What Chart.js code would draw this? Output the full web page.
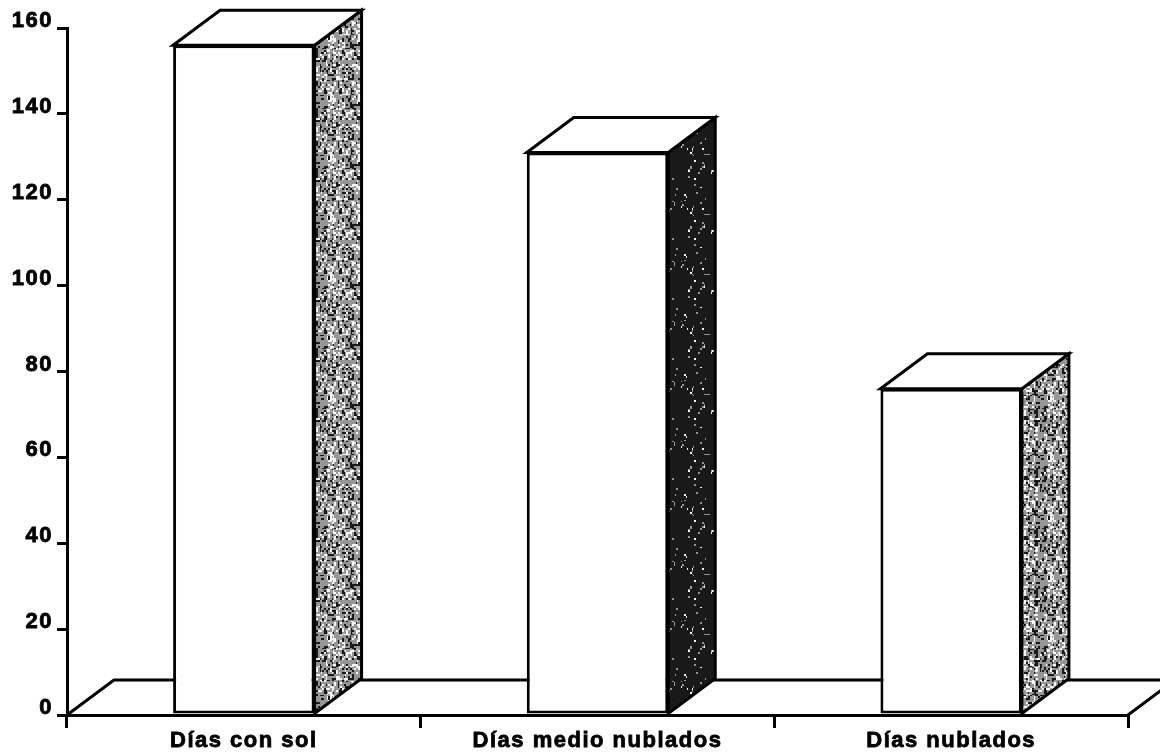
<!DOCTYPE html>
<html>
<head>
<meta charset="utf-8">
<script src="https://cdn.jsdelivr.net/npm/chart.js@4/dist/chart.umd.min.js"></script>
<style>
  html, body { margin: 0; padding: 0; background: #fff; }
  #wrap { width: 1160px; height: 756px; }
</style>
</head>
<body>
<div id="wrap"><canvas id="c" width="1160" height="756"></canvas></div>
<script>
// Días al año según el estado del cielo
const categories = ['Días con sol', 'Días medio nublados', 'Días nublados'];
const days = [156, 131, 76];
const yTickValues = [0, 20, 40, 60, 80, 100, 120, 140, 160];

// Styling of the pseudo-3D look
const DEPTH = { dx: 47, dy: 35 };
const SIDE_TONES = [
  { white: 0.36, grey: 0.36 },
  { white: 0.08, grey: 0.10 },
  { white: 0.34, grey: 0.36 }
];
const LINE = 3;
const FONT = { family: '"Liberation Sans", Arial, Helvetica, sans-serif', size: 22, weight: 'bold' };

// Deterministic speckle texture for the shaded side faces
function speckle(x, y) {
  let n = Math.imul(x, 374761393) + Math.imul(y, 668265263);
  n = Math.imul(n ^ (n >>> 13), 1274126177);
  n = n ^ (n >>> 16);
  return ((n >>> 0) % 1000) / 1000;
}
function makeTexture(ctx, tone) {
  const size = 60;
  const t = document.createElement('canvas');
  t.width = t.height = size;
  const g = t.getContext('2d');
  const img = g.createImageData(size, size);
  for (let y = 0; y < size; y++) {
    for (let x = 0; x < size; x++) {
      const h = 0.6 * speckle(Math.floor(x / 2), Math.floor(y / 2)) +
                0.4 * speckle(Math.floor(x / 3) + 101, Math.floor(y / 7) + 57);
      let v;
      if (h < tone.white) v = 245;
      else if (h < tone.white + tone.grey) v = 150;
      else v = 25;
      const i = (y * size + x) * 4;
      img.data[i] = img.data[i + 1] = img.data[i + 2] = v;
      img.data[i + 3] = 255;
    }
  }
  g.putImageData(img, 0, 0);
  return ctx.createPattern(t, 'repeat');
}

const box3d = {
  id: 'box3d',
  beforeDraw(chart) {
    chart.ctx.letterSpacing = '1.5px';
  },
  beforeDatasetsDraw(chart) {
    // floor plane behind the bars
    const { ctx, chartArea } = chart;
    const yb = chart.scales.y.getPixelForValue(0);
    const x0 = chartArea.left, x1 = chartArea.right;
    ctx.save();
    ctx.strokeStyle = '#000';
    ctx.lineWidth = LINE;
    ctx.lineJoin = 'miter';
    ctx.beginPath();
    ctx.moveTo(x0, yb);
    ctx.lineTo(x0 + DEPTH.dx, yb - DEPTH.dy);
    ctx.lineTo(x1 + DEPTH.dx, yb - DEPTH.dy);
    ctx.lineTo(x1, yb);
    ctx.stroke();
    ctx.restore();
  },
  afterDatasetsDraw(chart) {
    const { ctx } = chart;
    const meta = chart.getDatasetMeta(0);
    ctx.save();
    ctx.strokeStyle = '#000';
    ctx.lineWidth = LINE;
    ctx.lineJoin = 'miter';
    meta.data.forEach((bar, i) => {
      const { x, y, base, width } = bar.getProps(['x', 'y', 'base', 'width'], true);
      const xl = x - width / 2, xr = x + width / 2;
      // side face
      ctx.beginPath();
      ctx.moveTo(xr, y);
      ctx.lineTo(xr + DEPTH.dx, y - DEPTH.dy);
      ctx.lineTo(xr + DEPTH.dx, base - DEPTH.dy);
      ctx.lineTo(xr, base);
      ctx.closePath();
      ctx.fillStyle = makeTexture(ctx, SIDE_TONES[i % SIDE_TONES.length]);
      ctx.fill();
      ctx.stroke();
      // top face
      ctx.beginPath();
      ctx.moveTo(xl, y);
      ctx.lineTo(xl + DEPTH.dx, y - DEPTH.dy);
      ctx.lineTo(xr + DEPTH.dx, y - DEPTH.dy);
      ctx.lineTo(xr, y);
      ctx.closePath();
      ctx.fillStyle = '#fff';
      ctx.fill();
      ctx.stroke();
    });
    ctx.restore();
  }
};

new Chart(document.getElementById('c'), {
  type: 'bar',
  data: {
    labels: categories,
    datasets: [{
      data: days,
      backgroundColor: '#fff',
      borderColor: '#000',
      borderWidth: LINE,
      borderSkipped: false,
      categoryPercentage: 1,
      barPercentage: 0.4
    }]
  },
  options: {
    responsive: false,
    animation: false,
    events: [],
    layout: { padding: { top: 28, right: 32, left: 0, bottom: 0 } },
    plugins: { legend: { display: false }, tooltip: { enabled: false }, title: { display: false } },
    scales: {
      x: {
        offset: true,
        afterFit(scale) { scale.height = 41; },
        border: { display: true, color: '#000', width: LINE },
        grid: { display: true, offset: true, drawOnChartArea: false, drawTicks: true, tickLength: 13, color: '#000', lineWidth: LINE },
        ticks: { color: '#000', font: FONT, padding: 0, maxRotation: 0, autoSkip: false, textStrokeColor: '#000', textStrokeWidth: 0.8 }
      },
      y: {
        min: yTickValues[0],
        max: yTickValues[yTickValues.length - 1],
        afterFit(scale) { scale.width = 67; },
        afterBuildTicks(scale) { scale.ticks = yTickValues.map(v => ({ value: v })); },
        border: { display: true, color: '#000', width: LINE },
        grid: { display: true, drawOnChartArea: false, drawTicks: true, tickLength: 10, color: '#000', lineWidth: LINE },
        ticks: { color: '#000', font: FONT, padding: 4, labelOffset: -7, textStrokeColor: '#000', textStrokeWidth: 0.8 }
      }
    }
  },
  plugins: [box3d]
});
</script>
</body>
</html>
